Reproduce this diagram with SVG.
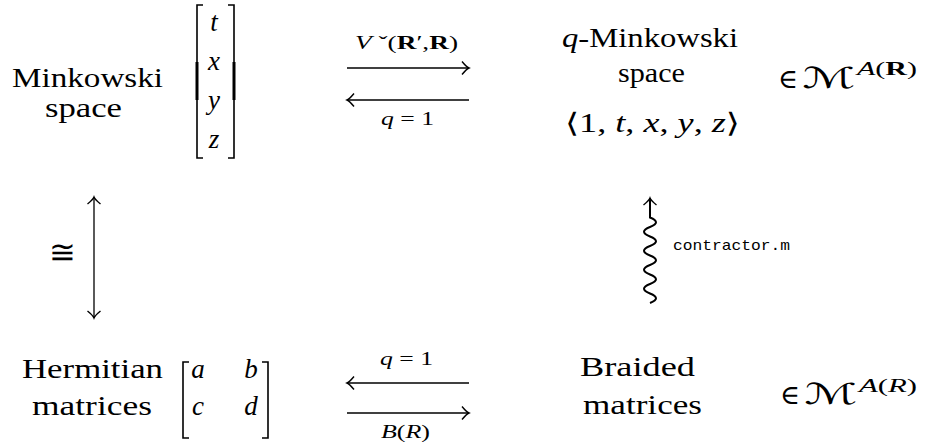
<svg xmlns="http://www.w3.org/2000/svg" width="925" height="448" viewBox="0 0 925 448">
<style>
text{font-family:'Liberation Serif','Times New Roman','DejaVu Serif',serif;fill:#000}
.t{font-size:27px}
.m{font-style:italic;font-size:27px}
.s{font-size:19px}
.i{font-style:italic}
.b{font-weight:bold;font-style:normal}
.cal{font-family:'DejaVu Serif','DejaVu Sans',serif;font-size:29px;font-style:italic}
.mono{font-family:'Liberation Mono','Courier New','DejaVu Sans Mono',monospace;font-size:15px}
.br{fill:none;stroke:#000;stroke-width:1.6}
.ln{fill:none;stroke:#000;stroke-width:1.3}
.wave{fill:none;stroke:#000;stroke-width:2}
.thick{stroke:#000;stroke-width:3}
.cong{font-size:32px}
</style>
<defs>
<marker id="ah" viewBox="-9 -8 11 16" refX="0" refY="0" markerWidth="11" markerHeight="16" markerUnits="userSpaceOnUse" orient="auto-start-reverse">
<path d="M-7,-6.5 Q-2.5,-1 0,0 Q-2.5,1 -7,6.5" fill="none" stroke="#000" stroke-width="1.4"/>
</marker>
</defs>

<g id="minkowski">
<text class="t" x="12" y="87" textLength="151" lengthAdjust="spacingAndGlyphs">Minkowski</text>
<text class="t" x="45" y="117" textLength="77" lengthAdjust="spacingAndGlyphs">space</text>
<path class="br" d="M203,5 H197 V158 H203"/>
<path class="br" d="M228,5 H234 V158 H228"/>
<line class="thick" x1="197" y1="62" x2="197" y2="100"/>
<line class="thick" x1="234" y1="62" x2="234" y2="100"/>
<text class="m" x="214" y="31" text-anchor="middle">t</text>
<text class="m" x="214" y="70" text-anchor="middle">x</text>
<text class="m" x="214" y="109" text-anchor="middle">y</text>
<text class="m" x="214" y="148" text-anchor="middle">z</text>
</g>

<g id="qminkowski">
<text class="t" x="562" y="47" textLength="176" lengthAdjust="spacingAndGlyphs"><tspan class="i">q</tspan>-Minkowski</text>
<text class="t" x="618" y="82" textLength="67" lengthAdjust="spacingAndGlyphs">space</text>
<text class="t" x="565" y="132" textLength="175" lengthAdjust="spacingAndGlyphs">⟨1, <tspan class="i">t</tspan>, <tspan class="i">x</tspan>, <tspan class="i">y</tspan>, <tspan class="i">z</tspan>⟩</text>
</g>

<g id="member-top">
<text class="t" x="778" y="88">∈</text>
<text class="cal" x="802" y="88" textLength="53" lengthAdjust="spacingAndGlyphs">ℳ</text>
<text class="s" x="857" y="75" textLength="60" lengthAdjust="spacingAndGlyphs"><tspan class="i">A</tspan>(<tspan class="b">R</tspan>)</text>
</g>

<g id="hermitian">
<text class="t" x="22" y="378" textLength="141" lengthAdjust="spacingAndGlyphs">Hermitian</text>
<text class="t" x="32" y="415" textLength="120" lengthAdjust="spacingAndGlyphs">matrices</text>
<path class="br" d="M189,362 H183 V438 H189"/>
<path class="br" d="M262,362 H268 V438 H262"/>
<text class="m" x="198" y="378" text-anchor="middle">a</text>
<text class="m" x="251" y="378" text-anchor="middle">b</text>
<text class="m" x="198" y="415" text-anchor="middle">c</text>
<text class="m" x="251" y="415" text-anchor="middle">d</text>
</g>

<g id="braided">
<text class="t" x="580" y="376" textLength="115" lengthAdjust="spacingAndGlyphs">Braided</text>
<text class="t" x="583" y="414" textLength="119" lengthAdjust="spacingAndGlyphs">matrices</text>
</g>

<g id="member-bottom">
<text class="t" x="780" y="404">∈</text>
<text class="cal" x="804" y="404" textLength="53" lengthAdjust="spacingAndGlyphs">ℳ</text>
<text class="s" x="859" y="392" textLength="58" lengthAdjust="spacingAndGlyphs"><tspan class="i">A</tspan>(<tspan class="i">R</tspan>)</text>
</g>

<g id="connectors">
<line class="ln" x1="347" y1="68" x2="469" y2="68" marker-end="url(#ah)"/>
<text class="s" x="355" y="49" textLength="103" lengthAdjust="spacingAndGlyphs"><tspan class="i">V</tspan> ˇ(<tspan class="b">R</tspan>′,<tspan class="b">R</tspan>)</text>
<line class="ln" x1="347" y1="100" x2="469" y2="100" marker-start="url(#ah)"/>
<text class="s" x="381" y="125" textLength="53" lengthAdjust="spacingAndGlyphs"><tspan class="i">q</tspan> = 1</text>

<line class="ln" x1="347" y1="383" x2="469" y2="383" marker-start="url(#ah)"/>
<text class="s" x="380" y="365" textLength="53" lengthAdjust="spacingAndGlyphs"><tspan class="i">q</tspan> = 1</text>
<line class="ln" x1="347" y1="413" x2="469" y2="413" marker-end="url(#ah)"/>
<text class="s" x="381" y="438" textLength="49" lengthAdjust="spacingAndGlyphs"><tspan class="i">B</tspan>(<tspan class="i">R</tspan>)</text>

<line class="ln" x1="94" y1="197" x2="94" y2="318" marker-start="url(#ah)" marker-end="url(#ah)"/>
<text class="cong" x="62" y="263" text-anchor="middle">≅</text>

<path class="wave" d="M650,303 q12,-4.75 0,-9.5 t0,-9.5 t0,-9.5 t0,-9.5 t0,-9.5 t0,-9.5 t0,-9.5 t0,-9.5 t0,-9.5 L650,198" marker-end="url(#ah)"/>
<text class="mono" x="673" y="250" textLength="117" lengthAdjust="spacingAndGlyphs">contractor.m</text>
</g>
</svg>
